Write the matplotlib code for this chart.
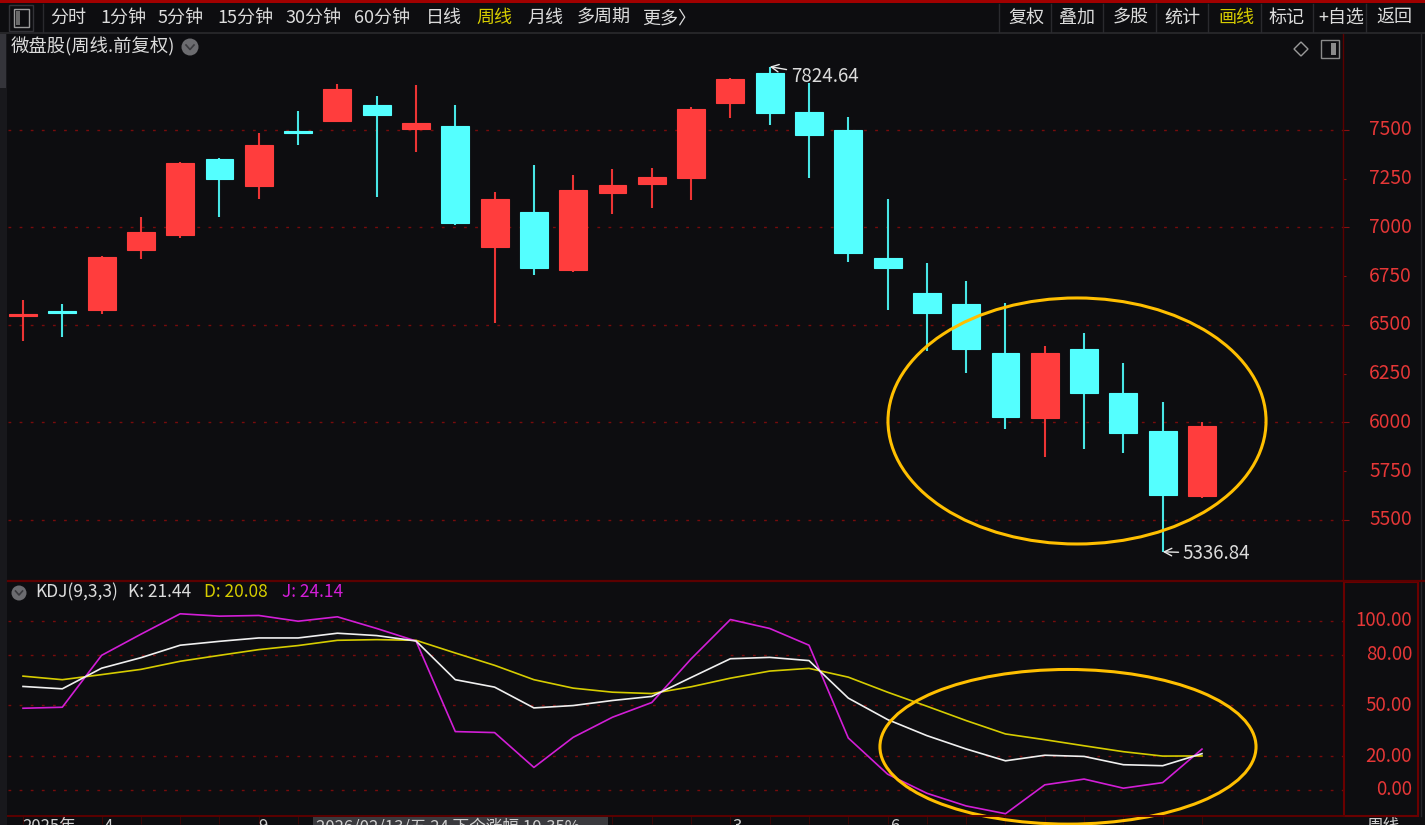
import matplotlib.pyplot as plt
from matplotlib.patches import Ellipse, Rectangle, Polygon
from matplotlib.lines import Line2D
import numpy as np

plt.rcParams['font.family'] = ['Noto Sans CJK SC', 'DejaVu Sans']

# weekly candles
opens = [6546, 6573, 6577, 6885, 6962, 7351, 7214, 7496, 7545, 7628,
         7507, 7520, 6898, 7081, 6782, 7177, 7222, 7252, 7637, 7791,
         7591, 7498, 6842, 6666, 6606, 6358, 6022, 6375, 6150, 5958, 5622]
highs = [6628, 6608, 6852, 7054, 7335, 7355, 7485, 7597, 7736, 7674,
         7729, 7628, 7182, 7320, 7268, 7298, 7305, 7619, 7765, 7824.64,
         7739, 7567, 7145, 6820, 6727, 6611, 6394, 6457, 6304, 6104, 6004]
lows = [6418, 6440, 6556, 6840, 6948, 7055, 7148, 7425, 7541, 7156,
        7387, 7011, 6510, 6756, 6772, 7071, 7102, 7141, 7563, 7524,
        7255, 6825, 6578, 6367, 6255, 5965, 5825, 5864, 5842, 5336.84, 5615]
closes = [6556, 6560, 6850, 6977, 7331, 7247, 7422, 7485, 7712, 7577,
          7536, 7022, 7145, 6791, 7191, 7219, 7259, 7606, 7760, 7586,
          7476, 6868, 6791, 6562, 6377, 6030, 6358, 6153, 5946, 5630, 5982]

# KDJ(9,3,3)
k_vals = [61.2, 59.8, 72.0, 78.2, 85.6, 87.9, 89.9, 89.9, 92.7, 91.3,
          88.1, 65.2, 60.8, 48.5, 49.9, 52.9, 55.3, 66.5, 77.6, 78.4,
          76.5, 54.3, 41.6, 32.1, 24.2, 17.2, 20.5, 19.8, 14.9, 14.3, 21.44]
d_vals = [67.3, 65.2, 68.2, 71.3, 76.1, 79.6, 83.0, 85.4, 88.5, 88.9,
          88.5, 81.0, 73.7, 65.2, 60.2, 57.8, 57.0, 61.0, 66.1, 70.3,
          71.9, 66.7, 57.8, 49.5, 41.0, 33.1, 29.7, 26.1, 22.6, 20.0, 20.08]
j_vals = [48.3, 48.9, 79.6, 92.1, 104.2, 102.8, 103.2, 99.8, 102.4, 95.5,
          88.1, 34.5, 33.9, 13.3, 31.1, 43.0, 51.7, 77.5, 100.8, 95.5,
          85.6, 30.7, 9.3, -2.0, -9.5, -14.1, 3.0, 6.4, 1.0, 4.3, 24.14]

price_ticks = [5500, 5750, 6000, 6250, 6500, 6750, 7000, 7250, 7500]
price_grid = [5500, 6000, 6500, 7000, 7500]
kdj_ticks = [0, 20, 50, 80, 100]

left_menu = ['分时', '1分钟', '5分钟', '15分钟', '30分钟', '60分钟', '日线', '周线', '月线', '多周期', '更多〉']
right_menu = ['复权', '叠加', '多股', '统计', '画线', '标记', '+自选', '返回']

# colours
bg = '#0d0d10'
up_c = '#ff3d3d'
dn_c = '#54ffff'
grid_c = '#780c0c'
axis_c = '#5c0000'
lab_red = '#e63737'
txt_c = '#dcdcdc'
yel = '#d6cc00'
mag = '#d21ed6'
ring = '#ffbf00'

W, H = 1425, 825
fig = plt.figure(figsize=(W / 100, H / 100), dpi=100, facecolor=bg)


def fx(x):
    return x / W


def fy(y):
    return 1 - y / H


def px_axes(l, t, r, b):
    a = fig.add_axes([fx(l), fy(b), (r - l) / W, (b - t) / H])
    a.set_facecolor('none')
    return a


def fline(x0, y0, x1, y1, color, lw):
    fig.add_artist(Line2D([fx(x0), fx(x1)], [fy(y0), fy(y1)],
                          transform=fig.transFigure, color=color, lw=lw))


def frect(l, t, r, b, **kw):
    fig.add_artist(Rectangle((fx(l), fy(b)), (r - l) / W, (b - t) / H,
                             transform=fig.transFigure, **kw))


# ---- frame bits ----
frect(0, 0, W, 3, color='#a00000', lw=0)
fline(0, 33, W, 33, '#2a2a2e', 1.2)
frect(0, 34, 7, H, color='#18181c', lw=0)
frect(0, 34, 6, 88, color='#34343a', lw=0)

# toolbar icon
frect(9, 5, 33, 31, fill=False, ec='#333338', lw=1)
frect(14, 9, 29, 27, fill=False, ec='#9a9a9a', lw=1)
frect(16, 11, 20, 25, color='#6a6a6a', lw=0)
fline(43, 4, 43, 32, '#2a2a2e', 1)

left_x = [50, 100, 158, 217, 286, 354, 426, 476, 527, 577, 642]
for name, x in zip(left_menu, left_x):
    fig.text(fx(x), fy(18), name, color=yel if name == '周线' else txt_c,
             fontsize=13, ha='left', va='center')

right_x = [1008, 1059, 1113, 1164, 1218, 1269, 1318, 1376]
for name, x in zip(right_menu, right_x):
    fig.text(fx(x), fy(18), name, color=yel if name == '画线' else txt_c,
             fontsize=13, ha='left', va='center')
for x in [999, 1051, 1103, 1156, 1208, 1261, 1313, 1366]:
    fline(x, 4, x, 32, '#2a2a2e', 1)

# title
fig.text(fx(11), fy(47), '微盘股(周线.前复权)', color=txt_c, fontsize=13.2,
         ha='left', va='center')
fig.add_artist(Ellipse((fx(190), fy(47)), 17 / W, 17 / H, transform=fig.transFigure,
                       color='#6c6c70', lw=0))
fig.add_artist(Line2D([fx(186), fx(190), fx(194)], [fy(45), fy(49.5), fy(45)],
                      transform=fig.transFigure, color='#3a3a3e', lw=1.2))

# top-right icons
fig.add_artist(Polygon([(fx(1301), fy(42)), (fx(1308), fy(49)), (fx(1301), fy(56)), (fx(1294), fy(49))],
                       closed=True, fill=False, ec='#9a9a9a', lw=1, transform=fig.transFigure))
frect(1321, 40, 1339, 58, fill=False, ec='#8a8a8a', lw=1)
frect(1331, 43, 1336, 55, color='#8a8a8a', lw=0)
fline(1421, 34, 1421, 816, '#26262a', 1)

# ---- main candle panel ----
ax = px_axes(8, 34, 1343, 580)
n = len(closes)
idx = np.arange(n)
o = np.array(opens)
c = np.array(closes)
hi = np.array(highs)
lo = np.array(lows)
up = c >= o
cols = np.where(up, up_c, dn_c)
wick_cols = np.where(up, '#ec3434', '#48e6e6')

ax.vlines(idx, lo, hi, colors=wick_cols, lw=1.5, zorder=2)
ax.bar(idx, np.abs(c - o), bottom=np.minimum(o, c), width=0.712,
       color=cols, edgecolor=cols, lw=0.8, zorder=3)

ax.set_xlim(-0.3817, 33.588)
ax.set_ylim(5192.3, 7992)
for s in ['top', 'left', 'bottom']:
    ax.spines[s].set_visible(False)
ax.spines['right'].set_color(axis_c)
ax.spines['right'].set_linewidth(1)
ax.set_xticks([])
ax.yaxis.set_ticks_position('right')
ax.set_yticks(price_grid)
ax.set_yticks([t for t in price_ticks if t not in price_grid], minor=True)
ax.tick_params(axis='y', which='major', length=4.5, width=0.8, color='#8a1010',
               labelright=False, labelleft=False)
ax.tick_params(axis='y', which='minor', length=2.2, width=0.8, color='#8a1010',
               labelright=False, labelleft=False)
for v in price_grid:
    ax.axhline(v, color=grid_c, lw=1, ls=(0, (2, 6)), zorder=1)
ytr = ax.get_yaxis_transform()
for v in price_ticks:
    ax.text(1.0517, v, str(v), transform=ytr, color=lab_red, fontsize=13.8,
            ha='right', va='center', clip_on=False)

ax.annotate(f'{highs[19]:.2f}', xy=(19, highs[19]), xytext=(21, -9.5),
            textcoords='offset pixels', color=txt_c, fontsize=13.5, ha='left', va='center',
            arrowprops=dict(arrowstyle='->', color='#e8e8e8', lw=1, shrinkA=1, shrinkB=0))
ax.annotate(f'{lows[29]:.2f}', xy=(29, lows[29]), xytext=(20, -1.5),
            textcoords='offset pixels', color=txt_c, fontsize=13.5, ha='left', va='center',
            arrowprops=dict(arrowstyle='->', color='#e8e8e8', lw=1, shrinkA=1, shrinkB=0))

ax.add_patch(Ellipse((26.82, 6007.7), 9.62, 1261.5, fill=False, ec=ring, lw=2.2,
                     zorder=5, clip_on=False))

# separators
fline(8, 580.5, W, 580.5, axis_c, 1.6)

# ---- KDJ panel ----
ax2 = px_axes(8, 582, 1343, 816)
ax2.set_xlim(-0.3817, 33.588)
ax2.set_ylim(-15.45, 123.0)
for s in ax2.spines.values():
    s.set_visible(False)
ax2.set_yticks([])
ax2.set_xticks(idx)
ax2.tick_params(axis='x', length=6, width=0.8, color='#3a0808', labelbottom=False)
for v in kdj_ticks:
    ax2.axhline(v, color=grid_c, lw=1, ls=(0, (2, 6)), zorder=1)
ax2.plot(idx, d_vals, color=yel, lw=1.2, zorder=3)
ax2.plot(idx, k_vals, color='#f0f0f0', lw=1.2, zorder=4)
ax2.plot(idx, j_vals, color=mag, lw=1.2, zorder=3)
ytr2 = ax2.get_yaxis_transform()
for v in kdj_ticks:
    ax2.text(1.0517, v, f'{v:.2f}', transform=ytr2, color=lab_red, fontsize=13.5,
             ha='right', va='center', clip_on=False)
ax2.add_patch(Ellipse((26.59, 25.5), 9.57, 91.5, fill=False, ec=ring, lw=2.2,
                      zorder=6, clip_on=False))

frect(1344, 582, 1418, 816, fill=False, ec='#6a0000', lw=1.5)
fline(8, 816, 1344, 816, axis_c, 1.4)

fig.add_artist(Ellipse((fx(19), fy(593)), 15 / W, 15 / H, transform=fig.transFigure,
                       color='#6c6c70', lw=0))
fig.add_artist(Line2D([fx(15.5), fx(19), fx(22.5)], [fy(591), fy(595), fy(591)],
                      transform=fig.transFigure, color='#3a3a3e', lw=1.2))
fig.text(fx(35), fy(592), 'KDJ(9,3,3)', color=txt_c, fontsize=12.5, ha='left', va='center')
fig.text(fx(128), fy(592), f'K: {k_vals[-1]:.2f}', color=txt_c, fontsize=12.5, ha='left', va='center')
fig.text(fx(204), fy(592), f'D: {d_vals[-1]:.2f}', color=yel, fontsize=12.5, ha='left', va='center')
fig.text(fx(282), fy(592), f'J: {j_vals[-1]:.2f}', color=mag, fontsize=12.5, ha='left', va='center')

# bottom date strip (cut off by the window edge, as in the screenshot)
frect(313, 817, 608, H, color='#3a3a3e', lw=0)
for s, x in [('2025年', 22), ('4', 104), ('9', 258), ('2026/02/13/五 24 下个涨幅 10.35%', 316),
             ('3', 732), ('6', 890), ('周线', 1366)]:
    fig.text(fx(x), fy(818), s, color='#cfcfcf', fontsize=12, ha='left', va='top')

fig.savefig('out.png', dpi=100, facecolor=bg)
